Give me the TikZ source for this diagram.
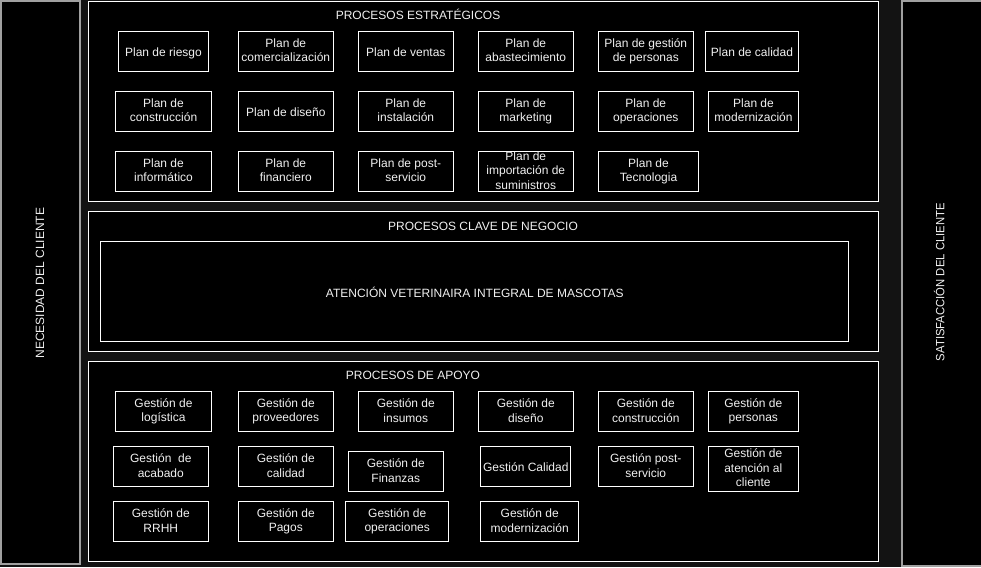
\documentclass[tikz,border=0pt]{standalone}
\usepackage{fontspec}
\setmainfont{Liberation Sans}
\definecolor{pagebg}{HTML}{131313}
\definecolor{sidegray}{HTML}{A0A0A0}
\definecolor{txt}{HTML}{F0F0F0}
\newcommand\mystrut{\rule[-1.7pt]{0pt}{14.4pt}}
\begin{document}
\begin{tikzpicture}[x=1pt,y=-1pt,
  every node/.style={inner sep=0pt, outer sep=0pt, text=txt,
    font=\fontsize{12}{14.4}\selectfont, align=center,
    execute at begin node=\mystrut, execute at end node=\mystrut},
  pbox/.style={draw=white, fill=black, line width=1pt},
  side/.style={draw=sidegray, fill=black, line width=1.2pt}]
\useasboundingbox (0,0) rectangle (981,567);
\fill[pagebg] (0,0) rectangle (981,567);

% side boxes
\node[side, minimum width=79pt, minimum height=563pt] (need) at (40.5,282.5) {};
\node[rotate=90] (needt) at (38.6,283) {NECESIDAD DEL CLIENTE};
\node[side, minimum width=84pt, minimum height=565pt] (sat) at (944,283.5) {};
\node[rotate=90] (satt) at (938.8,282.2) {\scalebox{0.94}[1]{SATISFACCIÓN DEL CLIENTE}};

% group boxes
\node[pbox, minimum width=790pt, minimum height=199.5pt] (estr) at (483.5,101.5) {};
\node (estrt) at (418,14.4) {PROCESOS ESTRATÉGICOS};
\node[pbox, minimum width=790pt, minimum height=140pt] (clave) at (483.5,281.3) {};
\node (clavet) at (483,224.6) {PROCESOS CLAVE DE NEGOCIO};
\node[pbox, minimum width=748pt, minimum height=99.6pt] (aten) at (474.7,291.5) {ATENCIÓN VETERINAIRA INTEGRAL DE MASCOTAS};
\node[pbox, minimum width=790pt, minimum height=199.7pt] (apoyo) at (483.5,461.2) {};
\node (apoyot) at (413,374.4) {PROCESOS DE APOYO};

% strategic plans row 1
\node[pbox, minimum width=90.4pt, minimum height=40pt] (p1) at (163.5,51.3) {Plan de riesgo};
\node[pbox, minimum width=95pt, minimum height=40pt] (p2) at (285.8,51.3) {Plan de\\comercialización};
\node[pbox, minimum width=95pt, minimum height=40pt] (p3) at (405.8,51.3) {Plan de ventas};
\node[pbox, minimum width=95pt, minimum height=40pt] (p4) at (525.8,51.3) {Plan de\\abastecimiento};
\node[pbox, minimum width=95pt, minimum height=40pt] (p5) at (645.8,51.3) {Plan de gestión\\de personas};
\node[pbox, minimum width=93.4pt, minimum height=40pt] (p6) at (752,51.3) {Plan de calidad};
% row 2
\node[pbox, minimum width=95.6pt, minimum height=40pt] (p7) at (163.5,111.3) {Plan de\\construcción};
\node[pbox, minimum width=95pt, minimum height=40pt] (p8) at (285.8,111.3) {Plan de diseño};
\node[pbox, minimum width=95pt, minimum height=40pt] (p9) at (405.8,111.3) {Plan de\\instalación};
\node[pbox, minimum width=95pt, minimum height=40pt] (p10) at (525.8,111.3) {Plan de\\marketing};
\node[pbox, minimum width=95pt, minimum height=40pt] (p11) at (645.8,111.3) {Plan de\\operaciones};
\node[pbox, minimum width=90.4pt, minimum height=40pt] (p12) at (753.5,111.3) {Plan de\\modernización};
% row 3
\node[pbox, minimum width=95.6pt, minimum height=40pt] (p13) at (163.5,171.3) {Plan de\\informático};
\node[pbox, minimum width=95pt, minimum height=40pt] (p14) at (285.8,171.3) {Plan de\\financiero};
\node[pbox, minimum width=95pt, minimum height=40pt] (p15) at (405.8,171.3) {Plan de post-\\servicio};
\node[pbox, minimum width=95pt, minimum height=40pt] (p16) at (525.8,171.3) {Plan de\\importación de\\suministros};
\node[pbox, minimum width=100.4pt, minimum height=40pt] (p17) at (648.5,171.3) {Plan de\\Tecnologia};

% support row 1
\node[pbox, minimum width=95.6pt, minimum height=40pt] (g1) at (163.5,411.3) {Gestión de\\logística};
\node[pbox, minimum width=95pt, minimum height=40pt] (g2) at (285.8,411.3) {Gestión de\\proveedores};
\node[pbox, minimum width=95pt, minimum height=40pt] (g3) at (405.8,411.3) {Gestión de\\insumos};
\node[pbox, minimum width=95pt, minimum height=40pt] (g4) at (525.8,411.3) {Gestión de\\diseño};
\node[pbox, minimum width=95pt, minimum height=40pt] (g5) at (645.8,411.3) {Gestión de\\construcción};
\node[pbox, minimum width=90pt, minimum height=40pt] (g6) at (753.3,411.3) {Gestión de\\personas};
% row 2
\node[pbox, minimum width=95pt, minimum height=40pt] (g7) at (160.8,466.3) {Gestión~ de\\acabado};
\node[pbox, minimum width=95pt, minimum height=40pt] (g8) at (285.8,466.3) {Gestión de\\calidad};
\node[pbox, minimum width=95pt, minimum height=40pt] (g9) at (395.8,471.3) {Gestión de\\Finanzas};
\node[pbox, minimum width=90.3pt, minimum height=40pt] (g10) at (525.8,466.3) {Gestión Calidad};
\node[pbox, minimum width=95pt, minimum height=40pt] (g11) at (645.8,466.3) {Gestión post-\\servicio};
\node[pbox, minimum width=90pt, minimum height=45pt] (g12) at (753.3,468.8) {Gestión de\\atención al\\cliente};
% row 3
\node[pbox, minimum width=95pt, minimum height=40pt] (g13) at (160.8,521.3) {Gestión de\\RRHH};
\node[pbox, minimum width=95pt, minimum height=40pt] (g14) at (285.8,521.3) {Gestión de\\Pagos};
\node[pbox, minimum width=103pt, minimum height=40pt] (g15) at (397.2,521.3) {Gestión de\\operaciones};
\node[pbox, minimum width=98pt, minimum height=40pt] (g16) at (529.7,521.3) {Gestión de\\modernización};
\end{tikzpicture}
\end{document}
